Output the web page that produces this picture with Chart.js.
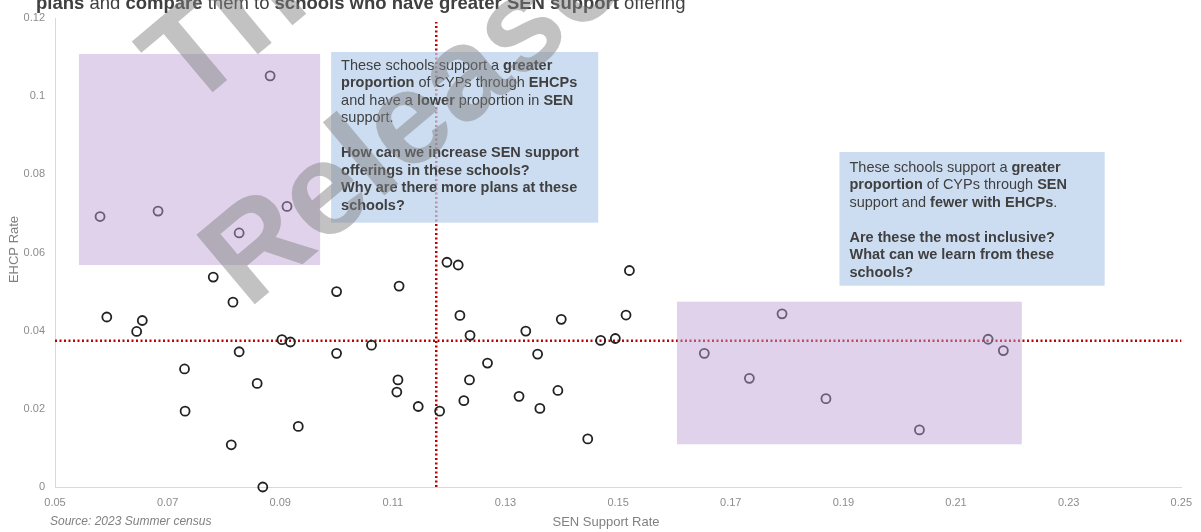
<!DOCTYPE html>
<html>
<head>
<meta charset="utf-8">
<script src="https://cdn.jsdelivr.net/npm/chart.js@4/dist/chart.umd.min.js"></script>
<style>
  html, body { margin: 0; padding: 0; background: #ffffff; }
  #wrap { width: 1201px; height: 532px; position: relative; }
</style>
</head>
<body>
<div id="wrap"><canvas id="chart" width="1201" height="532"></canvas></div>
<script>
// SEN support rate (x) and EHCP rate (y), one entry per school
const SEN_RATE = [
  0.0580, 0.0683, 0.0882, 0.0912, 0.0827, 0.0781, 0.0592, 0.0645, 0.0655, 0.0816,
  0.0827, 0.0730, 0.0731, 0.0859, 0.0813, 0.0869, 0.0903, 0.0918, 0.0932, 0.1000,
  0.1000, 0.1062, 0.1111, 0.1109, 0.1107, 0.1145, 0.1183, 0.1196, 0.1216, 0.1219,
  0.1237, 0.1268, 0.1236, 0.1226, 0.1324, 0.1336, 0.1357, 0.1361, 0.1393, 0.1399,
  0.1446, 0.1469, 0.1495, 0.1514, 0.1520, 0.1653, 0.1791, 0.1733, 0.1869, 0.2035,
  0.2157, 0.2184
];
const EHCP_RATE = [
  0.0692, 0.0706, 0.1052, 0.0718, 0.0650, 0.0537, 0.0435, 0.0398, 0.0426, 0.0473,
  0.0346, 0.0302, 0.0194, 0.0265, 0.0108, 0.0000, 0.0377, 0.0371, 0.0155, 0.0500,
  0.0342, 0.0363, 0.0514, 0.0274, 0.0243, 0.0206, 0.0194, 0.0575, 0.0568, 0.0439,
  0.0388, 0.0317, 0.0274, 0.0221, 0.0232, 0.0399, 0.0340, 0.0201, 0.0247, 0.0429,
  0.0123, 0.0375, 0.0380, 0.0440, 0.0554, 0.0342, 0.0443, 0.0278, 0.0226, 0.0146,
  0.0378, 0.0349
];

// Average rates drawn as dotted reference lines
const MEAN_SEN = 0.1177;
const MEAN_EHCP = 0.0374;

// Axis ticks
const X_TICKS = [0.05, 0.07, 0.09, 0.11, 0.13, 0.15, 0.17, 0.19, 0.21, 0.23, 0.25];
const X_TICK_LABELS = ['0.05', '0.07', '0.09', '0.11', '0.13', '0.15', '0.17', '0.19', '0.21', '0.23', '0.25'];
const Y_TICKS = [0, 0.02, 0.04, 0.06, 0.08, 0.1, 0.12];
const Y_TICK_LABELS = ['0', '0.02', '0.04', '0.06', '0.08', '0.1', '0.12'];

// Shaded groups of schools, in data units
const GROUP_HIGH_EHCP = { x0: 0.05425, x1: 0.09708, y0: 0.0568, y1: 0.1108 };
const GROUP_HIGH_SEN  = { x0: 0.16044, x1: 0.22168, y0: 0.01093, y1: 0.04742 };

// Note panels, in data units, and their text ([text, bold] runs per line)
const NOTE_A_AREA = { x0: 0.09903, x1: 0.14646, y0: 0.06763, y1: 0.1113 };
const NOTE_A_LINES = [
  [['These schools support a ', false], ['greater', true]],
  [['proportion', true], [' of CYPs through ', false], ['EHCPs', true]],
  [['and have a ', false], ['lower', true], [' proportion in ', false], ['SEN', true]],
  [['support.', false]],
  [],
  [['How can we increase SEN support', true]],
  [['offerings in these schools?', true]],
  [['Why are there more plans at these', true]],
  [['schools?', true]]
];
const NOTE_B_AREA = { x0: 0.1893, x1: 0.2364, y0: 0.05151, y1: 0.08572 };
const NOTE_B_LINES = [
  [['These schools support a ', false], ['greater', true]],
  [['proportion', true], [' of CYPs through ', false], ['SEN', true]],
  [['support and ', false], ['fewer with EHCPs', true], ['.', false]],
  [],
  [['Are these the most inclusive?', true]],
  [['What can we learn from these', true]],
  [['schools?', true]]
];

const HEADLINE = [
  ['plans', true], [' and ', false], ['compare', true], [' them to ', false],
  ['schools who have greater SEN support', true], [' offering', false]
];
const X_TITLE = 'SEN Support Rate';
const Y_TITLE = 'EHCP Rate';
const SOURCE_NOTE = 'Source: 2023 Summer census';
const STAMP_LINES = ['Th', 'Release'];

const FONT = '"Liberation Sans", Arial, Helvetica, sans-serif';
Chart.defaults.font.family = FONT;

const points = SEN_RATE.map((v, i) => ({ x: v, y: EHCP_RATE[i] }));

function drawRuns(ctx, runs, x, y, size, color) {
  let cx = x;
  ctx.fillStyle = color;
  for (const [text, bold] of runs) {
    ctx.font = (bold ? 'bold ' : '') + size + 'px ' + FONT;
    ctx.fillText(text, cx, y);
    cx += ctx.measureText(text).width;
  }
}

function drawNote(ctx, xs, ys, area, lines, firstOffset) {
  const left = xs.getPixelForValue(area.x0);
  const right = xs.getPixelForValue(area.x1);
  const top = ys.getPixelForValue(area.y1);
  const bottom = ys.getPixelForValue(area.y0);
  ctx.fillStyle = 'rgba(184, 206, 235, 0.7)';
  ctx.fillRect(left, top, right - left, bottom - top);
  ctx.textBaseline = 'middle';
  ctx.textAlign = 'left';
  lines.forEach((runs, i) => {
    drawRuns(ctx, runs, left + 10, top + firstOffset + i * 17.45, 14.5, '#404040');
  });
}

function shade(ctx, xs, ys, g) {
  const left = xs.getPixelForValue(g.x0);
  const right = xs.getPixelForValue(g.x1);
  const top = ys.getPixelForValue(g.y1);
  const bottom = ys.getPixelForValue(g.y0);
  ctx.fillStyle = 'rgba(190, 160, 212, 0.47)';
  ctx.fillRect(left, top, right - left, bottom - top);
}

const overlay = {
  id: 'overlay',
  afterDatasetsDraw(chart) {
    const { ctx, scales: { x, y } } = chart;
    ctx.save();
    shade(ctx, x, y, GROUP_HIGH_EHCP);
    shade(ctx, x, y, GROUP_HIGH_SEN);
    drawNote(ctx, x, y, NOTE_A_AREA, NOTE_A_LINES, 14);
    drawNote(ctx, x, y, NOTE_B_AREA, NOTE_B_LINES, 16);
    ctx.restore();
  },
  afterDraw(chart) {
    const { ctx, chartArea } = chart;
    ctx.save();
    // headline (continues above the visible area)
    ctx.textBaseline = 'alphabetic';
    ctx.textAlign = 'left';
    drawRuns(ctx, HEADLINE, 36, 8.5, 18.5, '#404040');

    // axis titles
    ctx.fillStyle = '#808080';
    ctx.font = '13px ' + FONT;
    ctx.textAlign = 'center';
    ctx.textBaseline = 'middle';
    ctx.fillText(X_TITLE, 606, 522);
    ctx.save();
    ctx.translate(14, (chartArea.top + chartArea.bottom) / 2 - 3);
    ctx.rotate(-Math.PI / 2);
    ctx.fillText(Y_TITLE, 0, 0);
    ctx.restore();

    // source
    ctx.font = 'italic 12px ' + FONT;
    ctx.textAlign = 'left';
    ctx.fillStyle = '#808080';
    ctx.fillText(SOURCE_NOTE, 50, 522);

    // stamp across the plot
    ctx.fillStyle = 'rgba(128, 128, 128, 0.48)';
    ctx.font = 'bold 132px ' + FONT;
    ctx.textBaseline = 'alphabetic';
    const ang = 40 * Math.PI / 180;
    ctx.save();
    ctx.translate(189, 112);
    ctx.rotate(-ang);
    ctx.fillText(STAMP_LINES[0], 0, 0);
    ctx.restore();
    ctx.save();
    ctx.translate(248, 310);
    ctx.rotate(-ang);
    ctx.fillText(STAMP_LINES[1], 0, 0);
    ctx.restore();
    ctx.restore();
  }
};

new Chart(document.getElementById('chart'), {
  type: 'scatter',
  data: {
    datasets: [
      {
        label: 'Schools',
        data: points,
        pointStyle: 'circle',
        pointRadius: 4.5,
        pointHoverRadius: 4.5,
        pointBorderWidth: 1.8,
        borderColor: '#222222',
        backgroundColor: 'rgba(0,0,0,0)',
        clip: false,
        order: 1
      },
      {
        label: 'Average EHCP rate',
        type: 'line',
        data: [{ x: 0.05, y: MEAN_EHCP }, { x: 0.25, y: MEAN_EHCP }],
        borderColor: '#c00000',
        borderWidth: 2.5,
        borderDash: [2, 2.5],
        pointRadius: 0,
        fill: false,
        clip: false,
        order: 2
      },
      {
        label: 'Average SEN support rate',
        type: 'line',
        data: [{ x: MEAN_SEN, y: 0 }, { x: MEAN_SEN, y: 0.119 }],
        borderColor: '#c00000',
        borderWidth: 2.5,
        borderDash: [2, 2.5],
        pointRadius: 0,
        fill: false,
        clip: false,
        order: 3
      }
    ]
  },
  options: {
    responsive: false,
    animation: false,
    devicePixelRatio: 1,
    layout: { padding: { left: 0, right: 16, top: 18, bottom: 0 } },
    plugins: {
      legend: { display: false },
      tooltip: { enabled: false }
    },
    scales: {
      x: {
        type: 'linear',
        min: 0.05,
        max: 0.25,
        afterBuildTicks: (s) => { s.ticks = X_TICKS.map(v => ({ value: v })); },
        afterFit: (s) => { s.height = 45; },
        ticks: {
          color: '#8c8c8c',
          font: { size: 11 },
          padding: 9,
          maxRotation: 0,
          autoSkip: false,
          callback: (v) => X_TICK_LABELS[X_TICKS.findIndex(t => Math.abs(t - v) < 1e-9)]
        },
        grid: { display: true, drawOnChartArea: false, drawTicks: false },
        border: { display: true, color: '#d9d9d9', width: 1 }
      },
      y: {
        type: 'linear',
        min: 0,
        max: 0.12,
        afterBuildTicks: (s) => { s.ticks = Y_TICKS.map(v => ({ value: v })); },
        afterFit: (s) => { s.width = 55; },
        ticks: {
          color: '#8c8c8c',
          font: { size: 11 },
          padding: 10,
          autoSkip: false,
          callback: (v) => Y_TICK_LABELS[Y_TICKS.findIndex(t => Math.abs(t - v) < 1e-9)]
        },
        grid: { display: true, drawOnChartArea: false, drawTicks: false },
        border: { display: true, color: '#d9d9d9', width: 1 }
      }
    }
  },
  plugins: [overlay]
});
</script>
</body>
</html>
